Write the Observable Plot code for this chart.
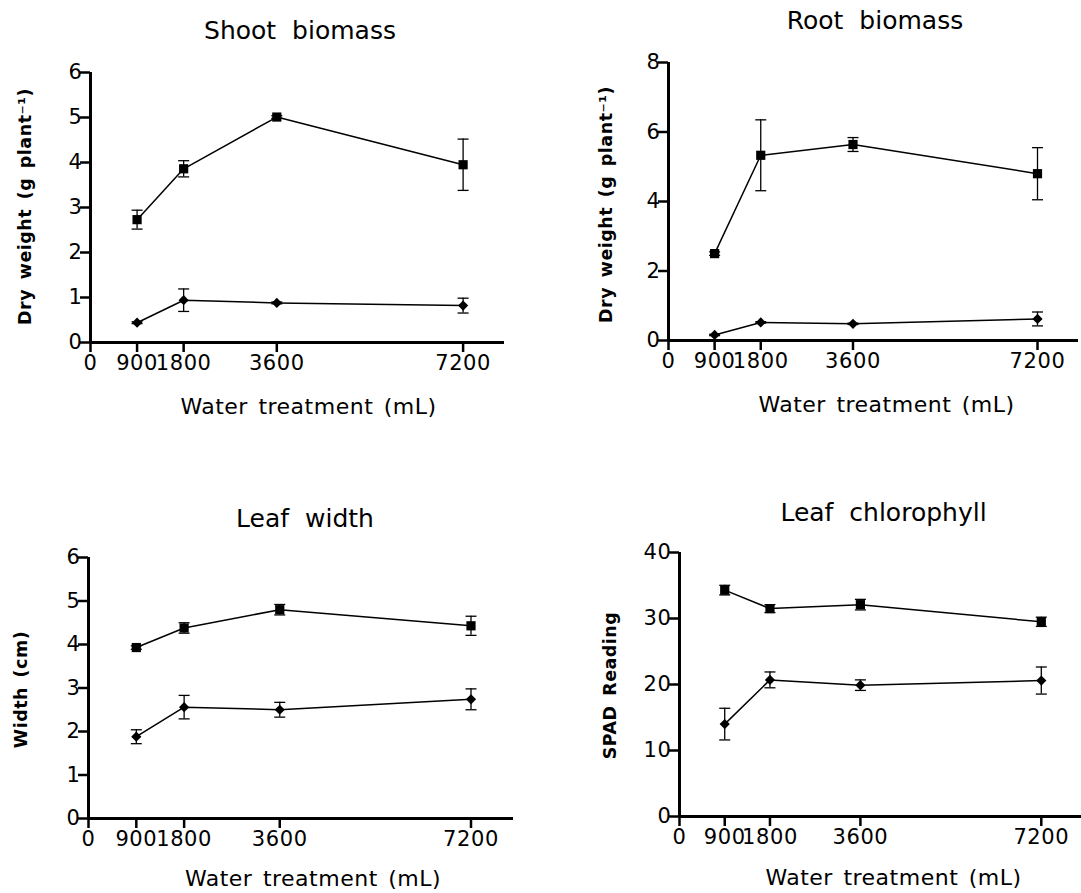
<!DOCTYPE html>
<html>
<head>
<meta charset="utf-8">
<script src="https://cdn.jsdelivr.net/npm/d3@7"></script>
<script src="https://cdn.jsdelivr.net/npm/@observablehq/plot@0.6"></script>
<style>
html, body { margin: 0; padding: 0; background: #fff; }
#wrap { position: relative; width: 1081px; height: 893px; overflow: hidden; font-family: "DejaVu Sans", sans-serif; color: #000; }
.title { position: absolute; width: 360px; text-align: center; font-size: 25px; line-height: 1; word-spacing: 8px; white-space: nowrap; }
.panel { position: absolute; }
.panel svg { display: block; }
svg text { word-spacing: 3px; letter-spacing: 0.5px; }
svg g[aria-label="x-axis tick label"] text, svg g[aria-label="y-axis tick label"] text { letter-spacing: 0.6px; word-spacing: 0; }
</style>
</head>
<body>
<div id="wrap"></div>
<script>
// ---- data ----
const water = [900, 1800, 3600, 7200];
const xTicks = [0, 900, 1800, 3600, 7200];
const xLabel = "Water treatment (mL)";
const titles = ["Shoot biomass", "Root biomass", "Leaf width", "Leaf chlorophyll"];
const yLabels = ["Dry weight (g plant⁻¹)", "Dry weight (g plant⁻¹)", "Width (cm)", "SPAD Reading"];

const shootSquare = [2.73, 3.86, 5.01, 3.95];
const shootSquareErr = [0.21, 0.18, 0.03, 0.57];
const shootDiamond = [0.44, 0.94, 0.88, 0.82];
const shootDiamondErr = [0.02, 0.25, 0.02, 0.165];

const rootSquare = [2.50, 5.33, 5.64, 4.80];
const rootSquareErr = [0.05, 1.02, 0.20, 0.75];
const rootDiamond = [0.16, 0.52, 0.48, 0.62];
const rootDiamondErr = [0.02, 0.02, 0.02, 0.20];

const widthSquare = [3.93, 4.38, 4.80, 4.43];
const widthSquareErr = [0.04, 0.12, 0.12, 0.22];
const widthDiamond = [1.88, 2.56, 2.50, 2.74];
const widthDiamondErr = [0.16, 0.27, 0.17, 0.24];

const spadSquare = [34.3, 31.5, 32.1, 29.5];
const spadSquareErr = [0.73, 0.60, 0.80, 0.70];
const spadDiamond = [14.0, 20.7, 19.9, 20.6];
const spadDiamondErr = [2.4, 1.2, 0.8, 2.05];

const yDomains = [[0, 6], [0, 8], [0, 6], [0, 40]];
const yTicks = [[0, 1, 2, 3, 4, 5, 6], [0, 2, 4, 6, 8], [0, 1, 2, 3, 4, 5, 6], [0, 10, 20, 30, 40]];

// ---- symbols ----
const squareSym = { draw(ctx, size) { const s = Math.sqrt(size / Math.PI); ctx.rect(-s, -s, 2 * s, 2 * s); } };
const diamondSym = { draw(ctx, size) { const s = Math.sqrt(size / Math.PI); ctx.moveTo(0, -s); ctx.lineTo(s, 0); ctx.lineTo(0, s); ctx.lineTo(-s, 0); ctx.closePath(); } };
const capSym = { draw(ctx, size) { const s = Math.sqrt(size / Math.PI); ctx.moveTo(-s, 0); ctx.lineTo(s, 0); } };

// ---- layout ----
const layouts = [
  { left: 0,   top: 48,  width: 540, height: 382, mL: 90,  mR: 36, mT: 24, mB: 88, tCx: 300,   tBase: 39.3,  xdx: 11, xdy: 64,   ydx: -65, ydy: -1 },
  { left: 540, top: 40,  width: 541, height: 390, mL: 128, mR: 3,  mT: 22, mB: 90, tCx: 875,   tBase: 29.3,  xdx: 13, xdy: 64.5, ydx: -62, ydy: 3 },
  { left: 0,   top: 536, width: 540, height: 357, mL: 88,  mR: 27, mT: 21, mB: 75, tCx: 305,   tBase: 527.3, xdx: 12, xdy: 60,   ydx: -67, ydy: 1.5 },
  { left: 540, top: 530, width: 541, height: 363, mL: 139, mR: 0,  mT: 22, mB: 77, tCx: 883.5, tBase: 521,   xdx: 13, xdy: 61.5, ydx: -69, ydy: 1 }
];

const series = [
  [shootSquare, shootSquareErr, shootDiamond, shootDiamondErr],
  [rootSquare, rootSquareErr, rootDiamond, rootDiamondErr],
  [widthSquare, widthSquareErr, widthDiamond, widthDiamondErr],
  [spadSquare, spadSquareErr, spadDiamond, spadDiamondErr]
];

const wrap = document.getElementById("wrap");

series.forEach(([sq, sqE, di, diE], p) => {
  const L = layouts[p];
  const rows = [];
  water.forEach((w, i) => {
    rows.push({ water: w, v: sq[i], e: sqE[i], s: "square" });
    rows.push({ water: w, v: di[i], e: diE[i], s: "diamond" });
  });
  const sqRows = rows.filter(d => d.s === "square");
  const diRows = rows.filter(d => d.s === "diamond");

  const chart = Plot.plot({
    width: L.width,
    height: L.height,
    marginLeft: L.mL, marginRight: L.mR, marginTop: L.mT, marginBottom: L.mB,
    x: { domain: [0, 8000] },
    y: { domain: yDomains[p] },
    style: { fontFamily: "DejaVu Sans, sans-serif", fontSize: "21px", color: "#000", background: "transparent", overflow: "visible" },
    marks: [
      Plot.ruleX(rows, { x: "water", y1: d => d.v - d.e, y2: d => d.v + d.e, stroke: "#000", strokeWidth: 1.3 }),
      Plot.dot(rows, { x: "water", y: d => d.v - d.e, symbol: capSym, r: 5.5, stroke: "#000", strokeWidth: 1.3, fill: "none" }),
      Plot.dot(rows, { x: "water", y: d => d.v + d.e, symbol: capSym, r: 5.5, stroke: "#000", strokeWidth: 1.3, fill: "none" }),
      Plot.line(rows, { x: "water", y: "v", z: "s", stroke: "#000", strokeWidth: 1.5 }),
      Plot.dot(sqRows, { x: "water", y: "v", symbol: squareSym, r: 4.6, fill: "#000", stroke: "none" }),
      Plot.dot(diRows, { x: "water", y: "v", symbol: diamondSym, r: 5.1, fill: "#000", stroke: "none" }),
      Plot.axisX({ ticks: xTicks, tickFormat: d => String(d), tickSize: 10, tickPadding: 3, label: null, strokeWidth: 2.5 }),
      Plot.axisY({ ticks: yTicks[p], tickFormat: d => String(d), tickSize: 10, tickPadding: -2, label: null, strokeWidth: 2.5 }),
      Plot.ruleX([0], { stroke: "#000", strokeWidth: 3 }),
      Plot.ruleY([0], { stroke: "#000", strokeWidth: 3 }),
      Plot.text([xLabel], { text: d => d, frameAnchor: "bottom", textAnchor: "middle", lineAnchor: "middle", dx: L.xdx, dy: L.xdy, fontSize: 22, fill: "#000" }),
      Plot.text([yLabels[p]], { text: d => d, frameAnchor: "left", textAnchor: "middle", rotate: -90, lineAnchor: "middle", dx: L.ydx, dy: L.ydy, fontSize: 17.5, fontWeight: "bold", fill: "#000" })
    ]
  });

  const holder = document.createElement("div");
  holder.className = "panel";
  holder.style.left = L.left + "px";
  holder.style.top = L.top + "px";
  holder.appendChild(chart);
  wrap.appendChild(holder);

  const t = document.createElement("div");
  t.className = "title";
  t.textContent = titles[p];
  t.style.left = (L.tCx - 180) + "px";
  t.style.top = (L.tBase - 21.3) + "px";
  wrap.appendChild(t);
});
</script>
</body>
</html>
